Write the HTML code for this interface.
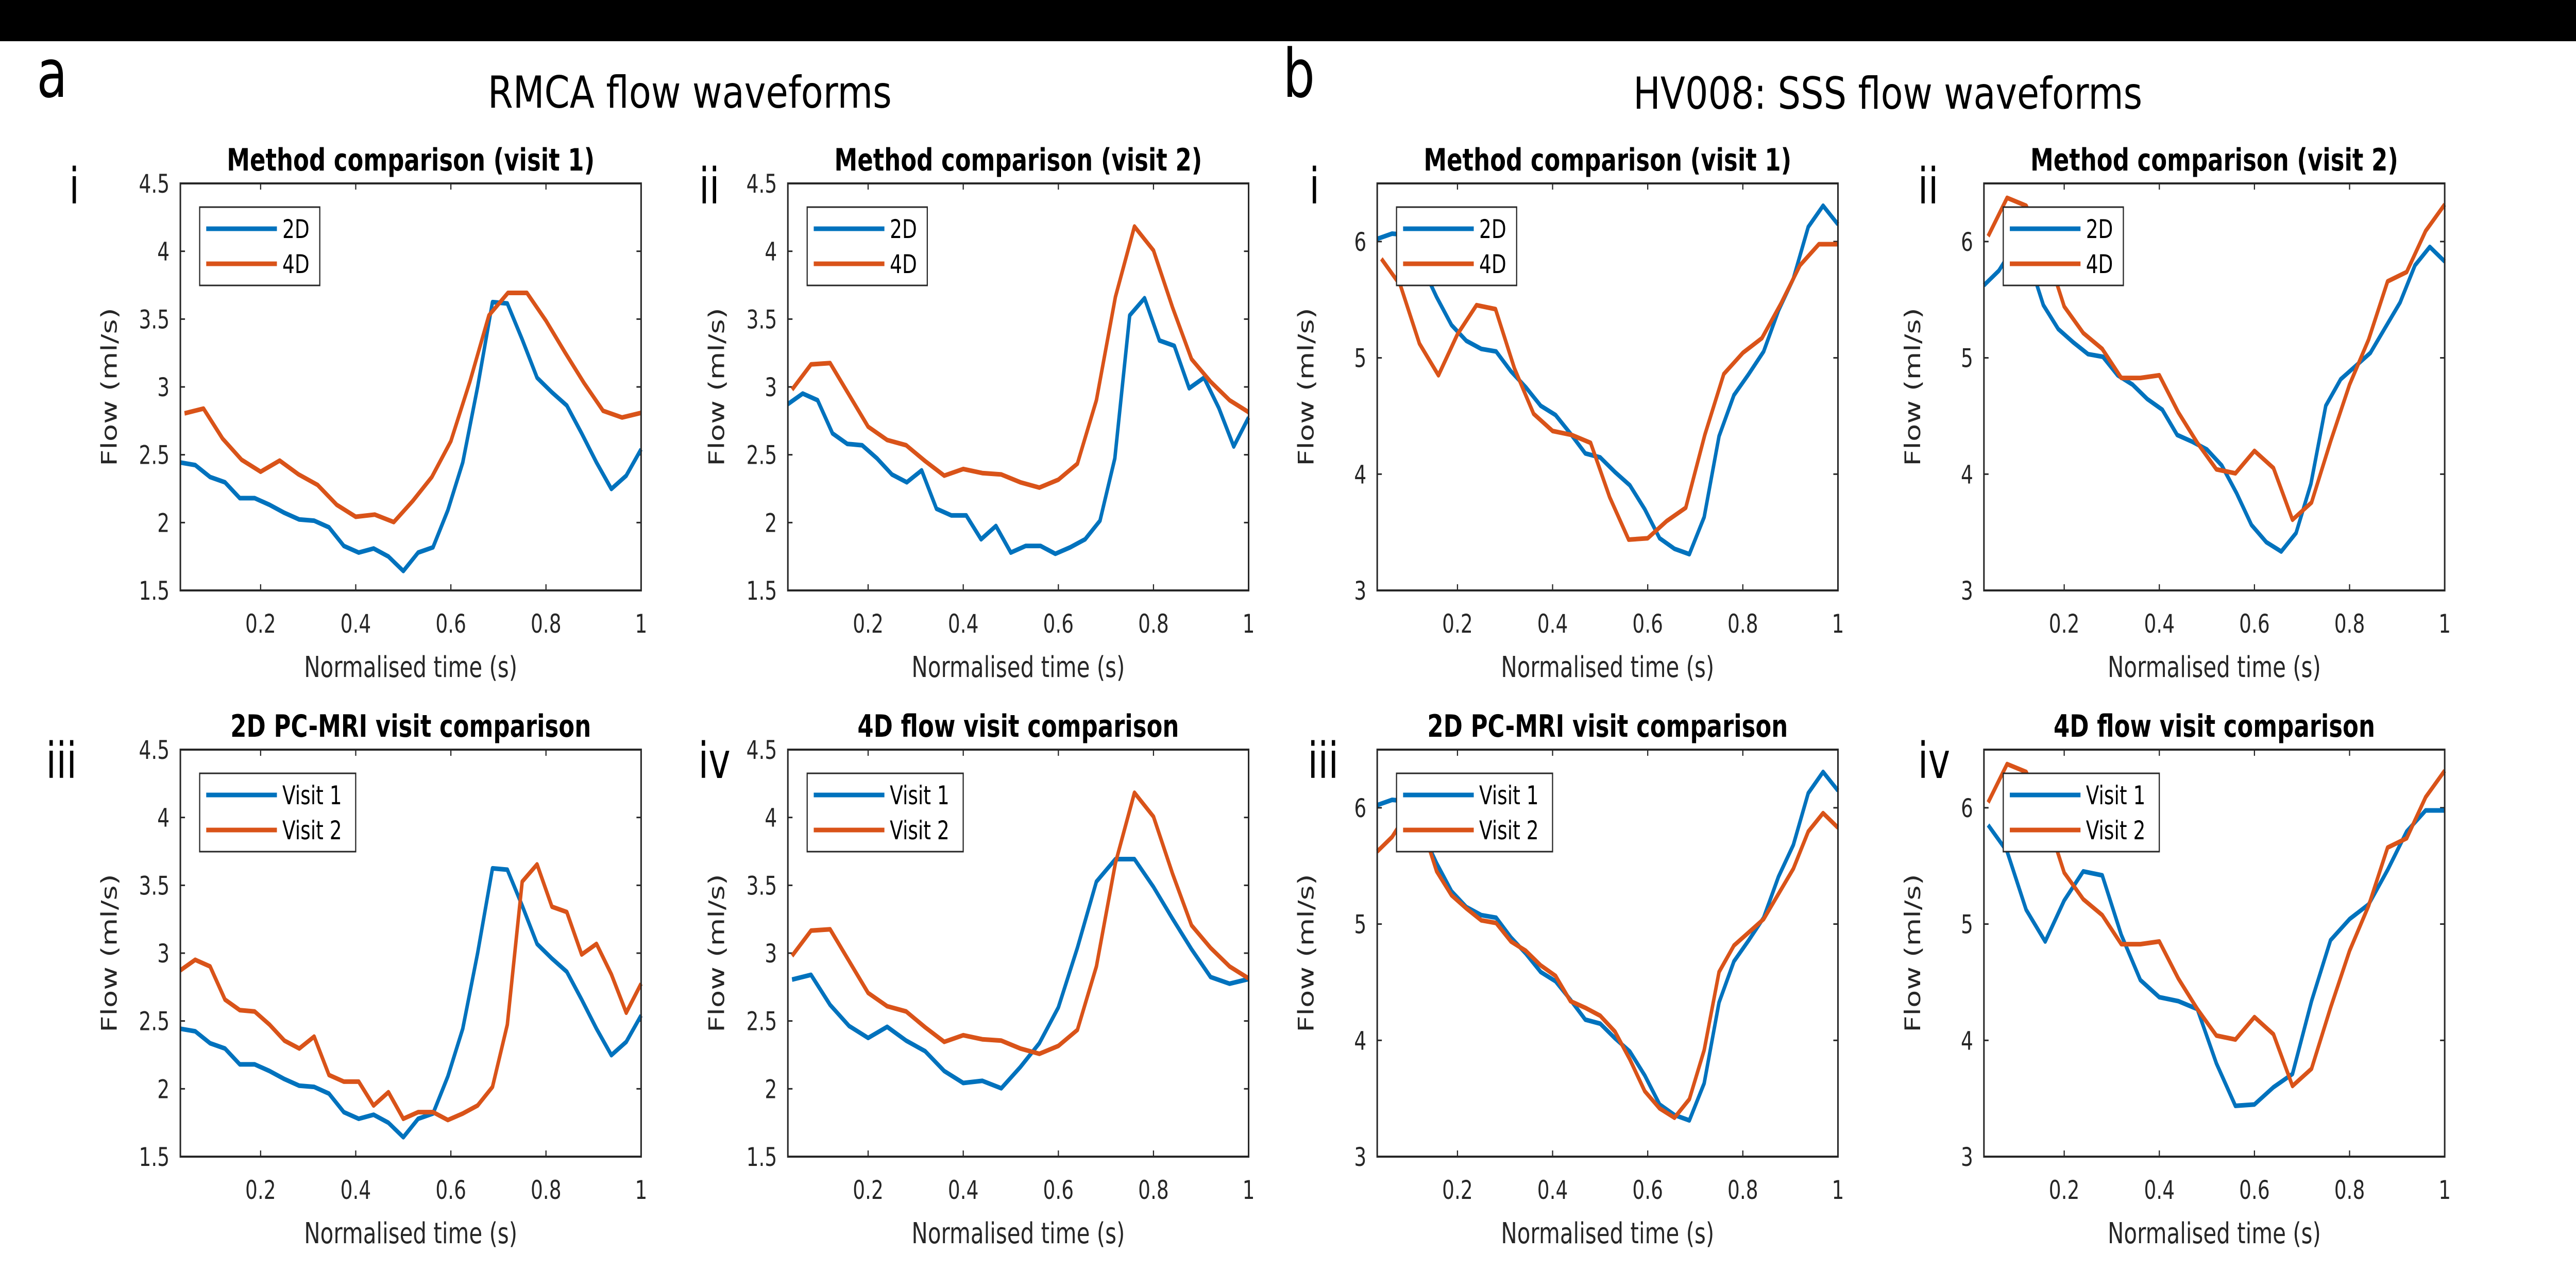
<!DOCTYPE html>
<html><head><meta charset="utf-8"><style>
html,body{margin:0;padding:0;background:#fff;overflow:hidden;width:100%;height:100%;}
svg{display:block;width:100vw;height:100vh;font-family:"DejaVu Sans","Liberation Sans",sans-serif;}
</style></head><body>
<svg id="fig" viewBox="0 0 6670 2498" preserveAspectRatio="none" xmlns="http://www.w3.org/2000/svg">
<rect x="0" y="0" width="6670" height="2498" fill="#fff"/>
<rect x="0" y="0" width="6670" height="80" fill="#000"/>
<text x="95" y="188" font-size="130">a</text>
<text x="3322" y="188" font-size="130">b</text>
<text x="1263" y="209" font-size="86" textLength="1046" lengthAdjust="spacingAndGlyphs">RMCA flow waveforms</text>
<text x="4229" y="211" font-size="86" textLength="1318" lengthAdjust="spacingAndGlyphs">HV008: SSS flow waveforms</text>
<g id="plots"></g>
</svg>
<script>
// ---- data ----
const t2D = [];   // 32 samples at k/32
const t4D = [];   // 25 samples at k/25
for (let k = 1; k <= 32; k++) t2D.push(k / 32);
for (let k = 1; k <= 25; k++) t4D.push(k / 25);

const rmcaV1_2D = [2.443,2.424,2.336,2.297,2.18,2.18,2.131,2.072,2.023,2.014,1.965,1.828,1.779,1.809,1.75,1.643,1.779,1.818,2.092,2.443,3.0,3.625,3.615,3.35,3.068,2.96,2.863,2.658,2.443,2.248,2.346,2.541];
const rmcaV1_4D = [2.805,2.84,2.619,2.463,2.375,2.457,2.355,2.277,2.131,2.043,2.059,2.004,2.16,2.336,2.6,3.039,3.527,3.693,3.693,3.488,3.254,3.029,2.824,2.775,2.809];
const rmcaV2_2D = [2.873,2.951,2.902,2.658,2.58,2.57,2.473,2.355,2.297,2.385,2.102,2.053,2.053,1.877,1.975,1.779,1.828,1.828,1.77,1.818,1.877,2.014,2.473,3.527,3.654,3.342,3.303,2.99,3.068,2.844,2.561,2.775];
const rmcaV2_4D = [2.98,3.166,3.176,2.941,2.707,2.609,2.57,2.453,2.346,2.395,2.365,2.355,2.297,2.258,2.316,2.434,2.902,3.664,4.182,4.006,3.586,3.205,3.039,2.902,2.814];
const sssV1_2D = [6.023,6.068,6.057,5.795,5.522,5.282,5.146,5.077,5.055,4.884,4.747,4.588,4.508,4.349,4.178,4.144,4.018,3.904,3.699,3.449,3.358,3.312,3.631,4.326,4.679,4.861,5.055,5.408,5.681,6.125,6.308,6.148];
const sssV1_4D = [5.852,5.624,5.123,4.85,5.203,5.453,5.419,4.907,4.519,4.371,4.337,4.269,3.802,3.437,3.449,3.597,3.711,4.337,4.861,5.043,5.169,5.465,5.795,5.977,5.977];
const sssV2_2D = [5.624,5.749,5.95,5.85,5.453,5.248,5.134,5.032,5.009,4.85,4.77,4.645,4.554,4.337,4.28,4.212,4.075,3.836,3.563,3.415,3.335,3.494,3.916,4.588,4.815,4.929,5.043,5.26,5.476,5.795,5.954,5.829];
const sssV2_4D = [6.046,6.376,6.308,5.95,5.442,5.214,5.077,4.827,4.827,4.85,4.531,4.269,4.041,4.007,4.2,4.052,3.608,3.756,4.28,4.77,5.157,5.658,5.738,6.091,6.319];

const xTicks = [0.2,0.4,0.6,0.8,1];
const xTickLabels = ["0.2","0.4","0.6","0.8","1"];
const yTicksA = [1.5,2,2.5,3,3.5,4,4.5];
const yTickLabelsA = ["1.5","2","2.5","3","3.5","4","4.5"];
const yTicksB = [3,4,5,6];
const yTickLabelsB = ["3","4","5","6"];

// ---- layout ----
const NS = "http://www.w3.org/2000/svg";
const BLUE = "#0072BD", ORANGE = "#D95319";
const W = 1193, H = 790;
const panels = [
  {name:"a-i", x:467, y:356, title:"Method comparison (visit 1)", roman:"i", rx:179, ry:395, yr:[1.5,4.5], yt:yTicksA, yl:yTickLabelsA,
   s:[{t:t2D,v:rmcaV1_2D,c:BLUE,n:"2D"},{t:t4D,v:rmcaV1_4D,c:ORANGE,n:"4D"}]},
  {name:"a-ii", x:2040, y:356, title:"Method comparison (visit 2)", roman:"ii", rx:1810, ry:395, yr:[1.5,4.5], yt:yTicksA, yl:yTickLabelsA,
   s:[{t:t2D,v:rmcaV2_2D,c:BLUE,n:"2D"},{t:t4D,v:rmcaV2_4D,c:ORANGE,n:"4D"}]},
  {name:"b-i", x:3566, y:356, title:"Method comparison (visit 1)", roman:"i", rx:3390, ry:395, yr:[3,6.5], yt:yTicksB, yl:yTickLabelsB,
   s:[{t:t2D,v:sssV1_2D,c:BLUE,n:"2D"},{t:t4D,v:sssV1_4D,c:ORANGE,n:"4D"}]},
  {name:"b-ii", x:5137, y:356, title:"Method comparison (visit 2)", roman:"ii", rx:4966, ry:395, yr:[3,6.5], yt:yTicksB, yl:yTickLabelsB,
   s:[{t:t2D,v:sssV2_2D,c:BLUE,n:"2D"},{t:t4D,v:sssV2_4D,c:ORANGE,n:"4D"}]},
  {name:"a-iii", x:467, y:1455, title:"2D PC-MRI visit comparison", roman:"iii", rx:119, ry:1510, yr:[1.5,4.5], yt:yTicksA, yl:yTickLabelsA,
   s:[{t:t2D,v:rmcaV1_2D,c:BLUE,n:"Visit 1"},{t:t2D,v:rmcaV2_2D,c:ORANGE,n:"Visit 2"}]},
  {name:"a-iv", x:2040, y:1455, title:"4D flow visit comparison", roman:"iv", rx:1808, ry:1510, yr:[1.5,4.5], yt:yTicksA, yl:yTickLabelsA,
   s:[{t:t4D,v:rmcaV1_4D,c:BLUE,n:"Visit 1"},{t:t4D,v:rmcaV2_4D,c:ORANGE,n:"Visit 2"}]},
  {name:"b-iii", x:3566, y:1455, title:"2D PC-MRI visit comparison", roman:"iii", rx:3386, ry:1510, yr:[3,6.5], yt:yTicksB, yl:yTickLabelsB,
   s:[{t:t2D,v:sssV1_2D,c:BLUE,n:"Visit 1"},{t:t2D,v:sssV2_2D,c:ORANGE,n:"Visit 2"}]},
  {name:"b-iv", x:5137, y:1455, title:"4D flow visit comparison", roman:"iv", rx:4966, ry:1510, yr:[3,6.5], yt:yTicksB, yl:yTickLabelsB,
   s:[{t:t4D,v:sssV1_4D,c:BLUE,n:"Visit 1"},{t:t4D,v:sssV2_4D,c:ORANGE,n:"Visit 2"}]}
];
const XMIN = 1/32, XMAX = 1;
const root = document.getElementById("plots");
function mk(tag, attrs, parent, txt) {
  const e = document.createElementNS(NS, tag);
  for (const k in attrs) e.setAttribute(k, attrs[k]);
  if (txt !== undefined) e.textContent = txt;
  parent.appendChild(e);
  return e;
}
panels.forEach(p => {
  const g = mk("g", {}, root);
  
  
  const sx = v => p.x + (v - XMIN) / (XMAX - XMIN) * W;
  const sy = v => p.y + H - (v - p.yr[0]) / (p.yr[1] - p.yr[0]) * H;
  const fr = mk("rect", {x:p.x, y:p.y, width:W, height:H, fill:"#fff"}, g);
  
  
  xTicks.forEach((tv, i) => {
    const X = sx(tv);
    mk("line", {x1:X, x2:X, y1:p.y+H, y2:p.y+H-12, stroke:"#262626", "stroke-width":3}, g);
    mk("line", {x1:X, x2:X, y1:p.y, y2:p.y+12, stroke:"#262626", "stroke-width":3}, g);
    const tl = mk("text", {x:X, y:p.y+H+82, "font-size":50, "text-anchor":"middle", fill:"#262626"}, g, xTickLabels[i]);
    
    
  });
  p.yt.forEach((tv, i) => {
    const Y = sy(tv);
    mk("line", {x1:p.x, x2:p.x+12, y1:Y, y2:Y, stroke:"#262626", "stroke-width":3}, g);
    mk("line", {x1:p.x+W, x2:p.x+W-12, y1:Y, y2:Y, stroke:"#262626", "stroke-width":3}, g);
    const tl = mk("text", {x:p.x-28, y:Y+18, "font-size":50, "text-anchor":"end", fill:"#262626"}, g, p.yl[i]);
    
    
  });
  p.s.forEach(s => {
    const pts = s.t.map((tv, i) => sx(tv).toFixed(1) + "," + sy(s.v[i]).toFixed(1)).join(" ");
    const pl = mk("polyline", {points:pts, fill:"none", stroke:s.c, "stroke-width":9, "stroke-linejoin":"round"}, g);
    
    
  });
  const box = mk("rect", {x:p.x, y:p.y, width:W, height:H, fill:"none", stroke:"#262626", "stroke-width":4}, g);
  
  
  const lw = p.s[0].n.length > 3 ? 404 : 311;
  const lg = mk("g", {}, g);
  
  
  const lx = p.x + 50, ly = p.y + 46;
  mk("rect", {x:lx, y:ly, width:lw, height:152, fill:"#fff", stroke:"#262626", "stroke-width":3}, lg);
  p.s.forEach((s, i) => {
    const yy = ly + 42 + i * 68;
    const e = mk("g", {}, lg);
    
    
    mk("line", {x1:lx+17, x2:lx+200, y1:yy, y2:yy, stroke:s.c, "stroke-width":9}, e);
    mk("text", {x:lx+214, y:yy+18, "font-size":50, fill:"#000"}, e, s.n);
  });
  const tt = mk("text", {x:p.x+W/2, y:p.y-25, "font-size":60, "font-weight":"bold", "text-anchor":"middle", fill:"#000"}, g, p.title);
  
  
  const xl = mk("text", {x:p.x+W/2, y:p.y+H+168, "font-size":56, "text-anchor":"middle", fill:"#262626"}, g, "Normalised time (s)");
  
  
  const cx = p.x - 165, cy = p.y + H/2;
  const yl = mk("text", {x:cx, y:cy, "font-size":56, "text-anchor":"middle", fill:"#262626", transform:"rotate(-90 "+cx+" "+cy+")"}, g, "Flow (ml/s)");
  
  
  const rn = mk("text", {x:p.rx, y:p.ry, "font-size":96, fill:"#000"}, g, p.roman);
  
  
});
</script>
</body></html>
